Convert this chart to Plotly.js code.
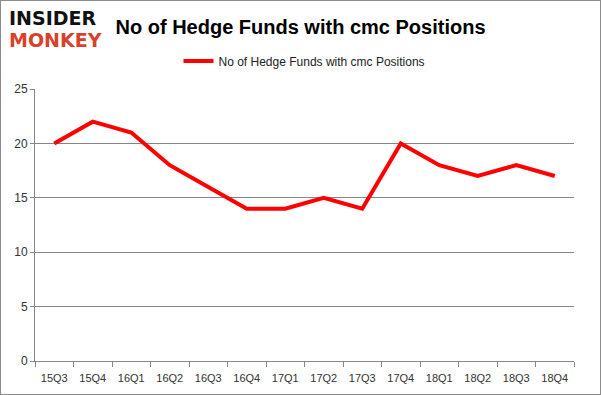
<!DOCTYPE html>
<html>
<head>
<meta charset="utf-8">
<script src="https://cdn.plot.ly/plotly-3.0.1.min.js"></script>
<style>
html,body{margin:0;padding:0;background:#fff;}
#wrap{width:601px;height:395px;box-sizing:border-box;border:1px solid #8c8c8c;overflow:hidden;}
#chart{width:599px;height:393px;}
</style>
</head>
<body>
<div id="wrap"><div id="chart"></div></div>
<script>
const quarters = ["15Q3","15Q4","16Q1","16Q2","16Q3","16Q4","17Q1","17Q2","17Q3","17Q4","18Q1","18Q2","18Q3","18Q4"];
const hedgeFunds = [20,22,21,18,16,14,14,15,14,20,18,17,18,17];
const seriesName = "No of Hedge Funds with cmc Positions";
const chartTitle = "No of Hedge Funds with cmc Positions";

const trace = {
  x: quarters,
  y: hedgeFunds,
  type: "scatter",
  mode: "lines",
  name: seriesName,
  line: {color: "#ff0000", width: 4}
};

const layout = {
  width: 599, height: 393,
  margin: {l: 34, r: 26, t: 88, b: 33},
  paper_bgcolor: "#fff",
  plot_bgcolor: "#fff",
  title: {text: "<b>" + chartTitle + "</b>", x: 0.5, xanchor: "center", y: 0.935, yanchor: "middle",
          font: {family: "Liberation Sans, Arial, sans-serif", size: 20, color: "#000"}},
  showlegend: true,
  legend: {orientation: "h", x: 0.5, xanchor: "center", y: 1.103, yanchor: "middle",
           font: {family: "Liberation Sans, Arial, sans-serif", size: 12, color: "#222"},
           itemwidth: 30},
  xaxis: {
    type: "category",
    range: [-0.5, quarters.length - 0.5],
    tickson: "boundaries",
    tickangle: 0,
    ticks: "outside", ticklen: 5, tickcolor: "#868686",
    ticklabelstandoff: 7,
    showline: true, linecolor: "#868686", linewidth: 1,
    showgrid: false, zeroline: false,
    tickfont: {family: "Liberation Sans, Arial, sans-serif", size: 11, color: "#333"},
    fixedrange: true
  },
  yaxis: {
    range: [0, 25], dtick: 5, tick0: 0,
    ticks: "outside", ticklen: 4, tickcolor: "#868686",
    showline: true, linecolor: "#868686", linewidth: 1,
    showgrid: true, gridcolor: "#868686", gridwidth: 1,
    zeroline: false,
    tickfont: {family: "Liberation Sans, Arial, sans-serif", size: 12, color: "#333"},
    fixedrange: true
  },
  annotations: [
    {text: "<b>INSIDER</b>", xref: "paper", yref: "paper", x: -0.052, y: 1.26, xanchor: "left", yanchor: "middle",
     showarrow: false, font: {family: "DejaVu Sans, sans-serif", size: 19, color: "#111"}},
    {text: "<b>MONKEY</b>", xref: "paper", yref: "paper", x: -0.052, y: 1.18, xanchor: "left", yanchor: "middle",
     showarrow: false, font: {family: "DejaVu Sans, sans-serif", size: 19, color: "#d9412b"}}
  ]
};

Plotly.newPlot("chart", [trace], layout, {displayModeBar: false, staticPlot: true});
</script>
</body>
</html>
